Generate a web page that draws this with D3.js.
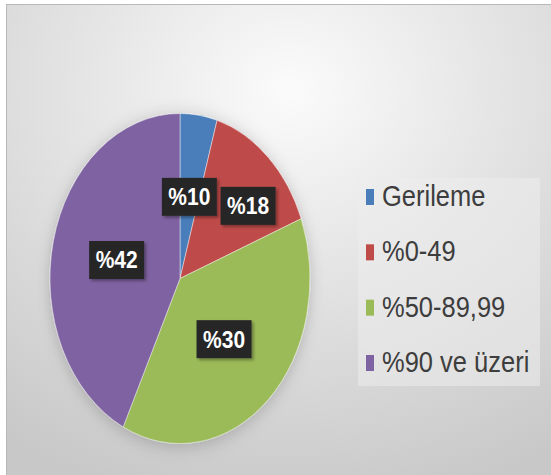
<!DOCTYPE html>
<html>
<head>
<meta charset="utf-8">
<script src="https://cdn.jsdelivr.net/npm/d3@7"></script>
<style>
  body { margin: 0; background: #fff; }
  svg { display: block; }
</style>
</head>
<body>
<script>
"use strict";
// slice sizes, labels as printed on it
const categories = ["Gerileme", "%0-49", "%50-89,99", "%90 ve üzeri"];
const shares = [4.6, 14.5, 38.1, 42.8];
const labels = ["%10", "%18", "%30", "%42"];
const colors = ["#4a7ebb", "#be4b48", "#9bbb59", "#7f62a1"];

function app() {
	const w = 551;
	const h = 475;
	const cx = 180, cy = 278.5;
	const rx = 130, ry = 165;
	const textStretch = 1.15;

	const svg = d3.select("body").append("svg").attr("width", w).attr("height", h);
	const defs = svg.append("defs");

	const bg = defs.append("radialGradient").attr("id", "bg")
		.attr("cx", "52%").attr("cy", "18%").attr("r", "90%");
	bg.append("stop").attr("offset", "0%").attr("stop-color", "#fbfbfb");
	bg.append("stop").attr("offset", "40%").attr("stop-color", "#e6e6e6");
	bg.append("stop").attr("offset", "100%").attr("stop-color", "#c8c8c8");

	const glow = defs.append("filter").attr("id", "glow")
		.attr("x", "-20%").attr("y", "-20%").attr("width", "140%").attr("height", "140%");
	glow.append("feDropShadow").attr("dx", 0).attr("dy", 2).attr("stdDeviation", 7)
		.attr("flood-color", "#000").attr("flood-opacity", 0.2);

	const boxShadow = defs.append("filter").attr("id", "boxShadow")
		.attr("x", "-30%").attr("y", "-30%").attr("width", "160%").attr("height", "160%");
	boxShadow.append("feDropShadow").attr("dx", 2).attr("dy", 2).attr("stdDeviation", 1.5)
		.attr("flood-color", "#000").attr("flood-opacity", 0.35);

	svg.append("rect").attr("x", 6.5).attr("y", 4.5).attr("width", w - 6).attr("height", h - 4)
		.attr("fill", "url(#bg)").attr("stroke", "#b8b8b8").attr("stroke-width", 1);

	// pie, drawn as a circle and stretched to the ellipse of the picture
	const pie = d3.pie().sort(null).value(d => d);
	const arcs = pie(shares);
	const arc = d3.arc().innerRadius(0).outerRadius(rx);

	const g = svg.append("g").attr("transform", "translate(" + cx + "," + cy + ") scale(1," + (ry / rx) + ")");
	g.append("g").attr("filter", "url(#glow)")
		.selectAll("path").data(arcs).enter().append("path")
		.attr("d", arc)
		.attr("fill", (d, i) => colors[i])
		.attr("stroke", "rgba(255,255,255,0.55)")
		.attr("stroke-width", 0.8)
		.attr("vector-effect", "non-scaling-stroke");

	// data labels sit on the slice centroids; the red one is pushed aside like in the picture
	const nudge = [[0, 0], [24, -12], [0, 0], [0, 0]];
	const bw = 55, bh = 38;
	const lab = svg.append("g").selectAll("g").data(arcs).enter().append("g")
		.attr("transform", (d, i) => {
			const c = arc.centroid(d);
			const x = cx + c[0] + nudge[i][0];
			const y = cy + c[1] * (ry / rx) + nudge[i][1];
			return "translate(" + x + "," + y + ")";
		});
	lab.append("rect")
		.attr("x", -bw / 2).attr("y", -bh / 2).attr("width", bw).attr("height", bh)
		.attr("fill", "#282828").attr("filter", "url(#boxShadow)");
	lab.append("text")
		.attr("transform", "translate(0,8.5) scale(1," + textStretch + ")")
		.attr("text-anchor", "middle")
		.attr("font-family", "'Liberation Sans', Arial, sans-serif")
		.attr("font-weight", "bold")
		.attr("font-size", 21)
		.attr("fill", "#fff")
		.text((d, i) => labels[i]);

	// legend
	const legend = svg.append("g");
	legend.append("rect").attr("x", 358).attr("y", 178).attr("width", 182).attr("height", 208)
		.attr("fill", "#ececec").attr("opacity", 0.55);
	const yPos = d3.scalePoint().domain(categories).range([206, 372]);
	const item = legend.selectAll("g").data(categories).enter().append("g")
		.attr("transform", d => "translate(366," + yPos(d) + ")");
	item.append("rect").attr("x", 0).attr("y", -17).attr("width", 8).attr("height", 16)
		.attr("fill", (d, i) => colors[i]);
	item.append("text")
		.attr("transform", "translate(16,0) scale(1," + textStretch + ")")
		.attr("font-family", "'Liberation Sans', Arial, sans-serif")
		.attr("font-size", 25.5)
		.attr("fill", "#3d3d3d")
		.text(d => d);
}

app();
</script>
</body>
</html>
